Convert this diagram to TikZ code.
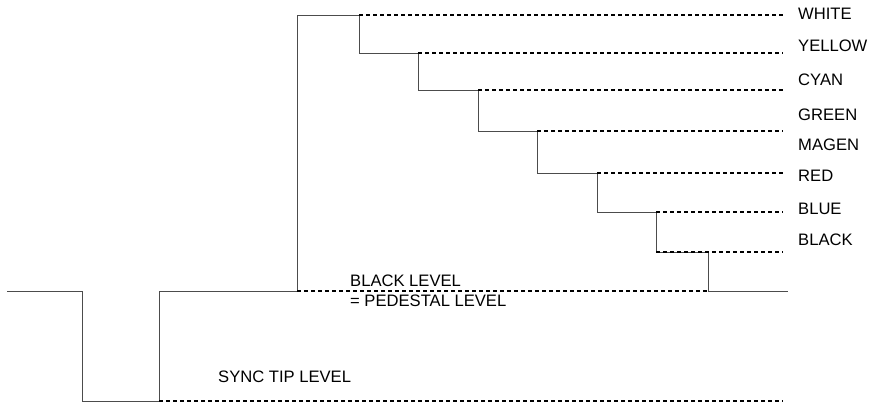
\documentclass[tikz,border=0pt]{standalone}
\usepackage{fontspec}
\setmainfont{Liberation Sans}
\begin{document}
\begin{tikzpicture}[x=1pt,y=-1pt,
    wave/.style={black!70,line width=0.9pt},
    level/.style={black,line width=1.8pt,dash pattern=on 4pt off 3pt},
    lbl/.style={anchor=west,inner sep=0pt,font=\fontsize{16.6}{19}\selectfont}]
    \useasboundingbox (0,0) rectangle (872,406);
    % video line: sync pulse, pedestal, colour bar staircase
    \coordinate (start) at (7,291);
    \coordinate (syncA) at (82,401);
    \coordinate (syncB) at (159,401);
    \coordinate (ped) at (297,291);
    \coordinate (stepEnd) at (708,252);
    \coordinate (lineEnd) at (788,291);
    \draw[wave] (start) -| (syncA) -- (syncB) |- (ped)
        |- (359,15) |- (418,53) |- (478,90) |- (537,131)
        |- (597,173) |- (656,212) |- (stepEnd) |- (lineEnd);
    % dashed levels
    \foreach \xs/\y in {359/15, 418/53, 478/90, 537/131, 597/173, 656/212, 656/252}
        \draw[level] (\xs,\y) -- (783,\y);
    \draw[level] (ped) -- (708,291);
    \draw[level] (syncB) -- (783,401);
    % labels
    \foreach \t/\y in {WHITE/14, YELLOW/46, CYAN/80, GREEN/115, MAGEN/145, RED/176, BLUE/209, BLACK/240}
        \node[lbl] (lab-\t) at (798,\y) {\t};
    \node[lbl] (blacklevel) at (350,281) {BLACK LEVEL};
    \node[lbl] (pedlevel) at (350,301) {= PEDESTAL LEVEL};
    \node[lbl] (synclevel) at (218,377) {SYNC TIP LEVEL};
\end{tikzpicture}
\end{document}
